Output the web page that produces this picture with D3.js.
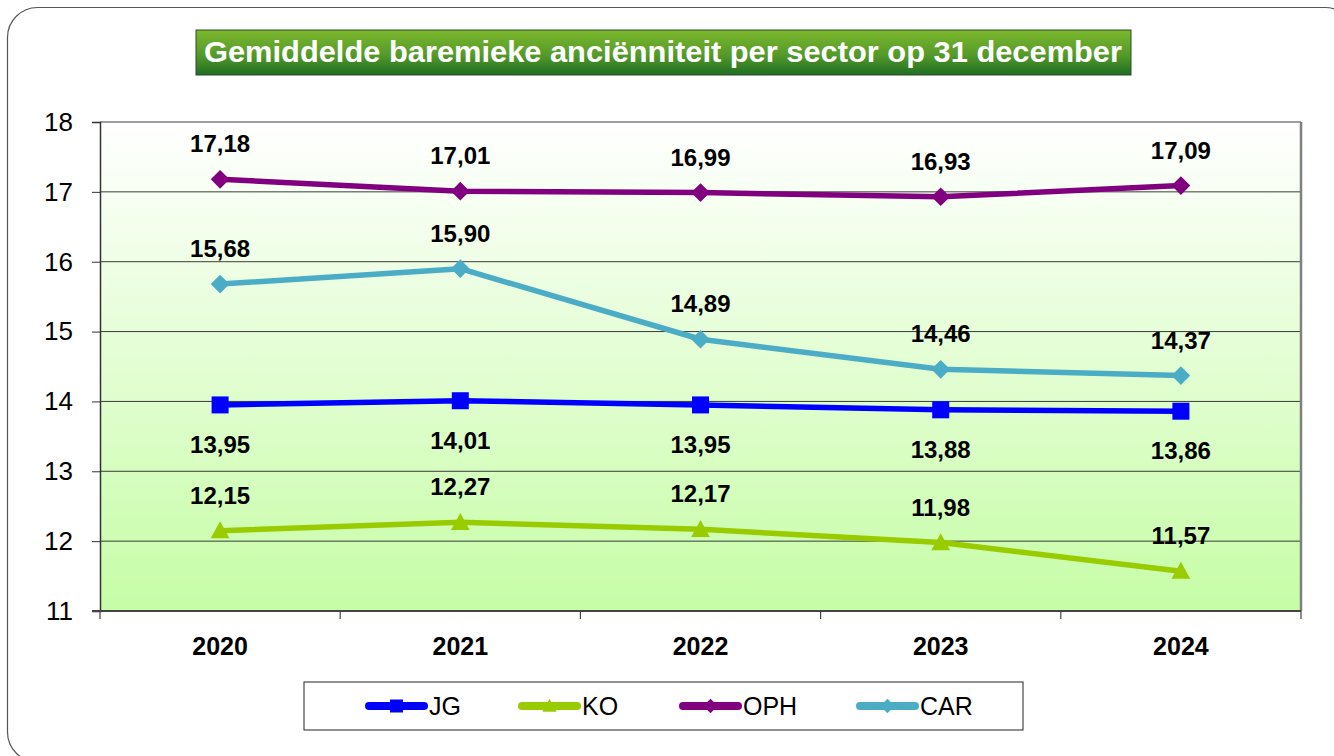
<!DOCTYPE html>
<html>
<head>
<meta charset="utf-8">
<script src="https://cdn.jsdelivr.net/npm/d3@7"></script>
<style>
  body { margin: 0; background: #fff; }
  svg { display: block; font-family: 'Liberation Sans', Arial, sans-serif; }
</style>
</head>
<body>
<script>
// ! Data
const years = ['2020', '2021', '2022', '2023', '2024'];
const jg = [13.95, 14.01, 13.95, 13.88, 13.86];
const ko = [12.15, 12.27, 12.17, 11.98, 11.57];
const oph = [17.18, 17.01, 16.99, 16.93, 17.09];
const car = [15.68, 15.90, 14.89, 14.46, 14.37];
const yTicks = [11, 12, 13, 14, 15, 16, 17, 18];

const seriesList = [
  { name: 'JG', values: jg, color: '#0000ff', marker: 'square', above: false },
  { name: 'KO', values: ko, color: '#99cc00', marker: 'triangle', above: true },
  { name: 'OPH', values: oph, color: '#800080', marker: 'diamond', above: true },
  { name: 'CAR', values: car, color: '#4bacc6', marker: 'diamond', above: true },
];

// * Size and margins
const width = 1334;
const height = 756;
const margin = { top: 122, right: 33, bottom: 145, left: 100 };
const innerWidth = width - margin.left - margin.right;
const innerHeight = height - margin.top - margin.bottom;

const svg = d3.select('body').append('svg')
  .attr('width', width)
  .attr('height', height);

const defs = svg.append('defs');
const titleGrad = defs.append('linearGradient')
  .attr('id', 'titleGrad').attr('x1', 0).attr('y1', 0).attr('x2', 0).attr('y2', 1);
titleGrad.append('stop').attr('offset', '0%').attr('stop-color', '#7cb82c');
titleGrad.append('stop').attr('offset', '55%').attr('stop-color', '#559a2a');
titleGrad.append('stop').attr('offset', '100%').attr('stop-color', '#1f6e22');

const plotGrad = defs.append('linearGradient')
  .attr('id', 'plotGrad').attr('x1', 0).attr('y1', 0).attr('x2', 0).attr('y2', 1);
plotGrad.append('stop').attr('offset', '0%').attr('stop-color', '#ffffff');
plotGrad.append('stop').attr('offset', '100%').attr('stop-color', '#c6fda6');

// * Outer rounded frame (only the part that shows on the page)
const frame = d3.path();
frame.moveTo(37.5, 762);
frame.arcTo(7.5, 762, 7.5, 732, 30);
frame.lineTo(7.5, 37.5);
frame.arcTo(7.5, 7.5, 37.5, 7.5, 30);
frame.lineTo(1325, 7.5);
frame.arcTo(1355, 7.5, 1355, 37.5, 30);
svg.append('path')
  .attr('d', frame.toString())
  .attr('fill', 'none')
  .attr('stroke', '#555')
  .attr('stroke-width', 1.2);

// * Title box
svg.append('rect')
  .attr('x', 196).attr('y', 30)
  .attr('width', 935).attr('height', 45)
  .attr('fill', 'url(#titleGrad)')
  .attr('stroke', '#2d4d2d')
  .attr('stroke-width', 1);
svg.append('text')
  .attr('x', 663).attr('y', 62)
  .attr('text-anchor', 'middle')
  .attr('fill', '#fff')
  .attr('font-family', "'Liberation Sans Narrow', 'Liberation Sans', Arial, sans-serif")
  .attr('font-weight', 'bold')
  .attr('font-size', 30)
  .attr('textLength', 918)
  .attr('lengthAdjust', 'spacingAndGlyphs')
  .text('Gemiddelde baremieke anciënniteit per sector op 31 december');

// * Scales
const x = d3.scaleBand().domain(years).range([0, innerWidth]);
const y = d3.scaleLinear().domain([11, 18]).range([innerHeight, 0]);

const g = svg.append('g')
  .attr('transform', `translate(${margin.left}, ${margin.top})`);

// plot area
g.append('rect')
  .attr('width', innerWidth).attr('height', innerHeight)
  .attr('fill', 'url(#plotGrad)');

// gridlines
g.append('g')
  .selectAll('line')
  .data(yTicks.slice(1, -1))
  .join('line')
  .attr('x1', 0).attr('x2', innerWidth)
  .attr('y1', (d) => y(d)).attr('y2', (d) => y(d))
  .attr('stroke', '#3a3a3a')
  .attr('stroke-width', 1);

// plot border (Excel style, thicker right side)
g.append('line').attr('x1', 0).attr('x2', innerWidth).attr('y1', 0).attr('y2', 0)
  .attr('stroke', '#808080').attr('stroke-width', 1.5);
g.append('line').attr('x1', innerWidth).attr('x2', innerWidth).attr('y1', 0).attr('y2', innerHeight)
  .attr('stroke', '#808080').attr('stroke-width', 2.5);

// y axis
const yAxis = g.append('g')
  .call(d3.axisLeft(y).tickValues(yTicks).tickSize(8).tickPadding(19).tickFormat(d3.format('d')));
yAxis.select('.domain').attr('stroke', '#333').attr('stroke-width', 1.5);
yAxis.selectAll('.tick line').attr('stroke', '#333');
yAxis.selectAll('text')
  .attr('font-size', 26)
  .attr('fill', '#000')
  .attr('font-family', "'Liberation Sans', Arial, sans-serif");

// x axis
const xAxisG = g.append('g').attr('transform', `translate(0, ${innerHeight})`);
xAxisG.append('line')
  .attr('x1', -8).attr('x2', innerWidth)
  .attr('stroke', '#444').attr('stroke-width', 2);
xAxisG.selectAll('.xtick')
  .data(years.concat(['end']))
  .join('line')
  .attr('class', 'xtick')
  .attr('x1', (d, i) => (i < years.length ? x(d) : innerWidth))
  .attr('x2', (d, i) => (i < years.length ? x(d) : innerWidth))
  .attr('y1', 0).attr('y2', 8)
  .attr('stroke', '#444').attr('stroke-width', 1.2);
xAxisG.selectAll('.xlabel')
  .data(years)
  .join('text')
  .attr('class', 'xlabel')
  .attr('x', (d) => x(d) + x.bandwidth() / 2)
  .attr('y', 44)
  .attr('text-anchor', 'middle')
  .attr('font-size', 25)
  .attr('font-weight', 'bold')
  .text((d) => d);

// * Marker drawing
function drawMarker(sel, type, color, size) {
  if (type === 'square') {
    sel.append('rect')
      .attr('x', -size).attr('y', -size)
      .attr('width', size * 2).attr('height', size * 2)
      .attr('fill', color);
  } else if (type === 'triangle') {
    sel.append('path')
      .attr('d', `M0,${-size * 1.1}L${size * 1.1},${size * 0.9}L${-size * 1.1},${size * 0.9}Z`)
      .attr('fill', color);
  } else {
    sel.append('path')
      .attr('d', `M0,${-size * 1.1}L${size * 1.1},0L0,${size * 1.1}L${-size * 1.1},0Z`)
      .attr('fill', color);
  }
}

const line = d3.line()
  .x((d, i) => x(years[i]) + x.bandwidth() / 2)
  .y((d) => y(d));

seriesList.forEach((s) => {
  const sg = g.append('g');
  sg.append('path')
    .datum(s.values)
    .attr('d', line)
    .attr('fill', 'none')
    .attr('stroke', s.color)
    .attr('stroke-width', 5.5)
    .attr('stroke-linejoin', 'round');
  s.values.forEach((v, i) => {
    const px = x(years[i]) + x.bandwidth() / 2;
    const py = y(v);
    const m = sg.append('g').attr('transform', `translate(${px}, ${py})`);
    drawMarker(m, s.marker, s.color, 8.5);
    sg.append('text')
      .attr('x', px)
      .attr('y', s.above ? py - 27 : py + 48)
      .attr('text-anchor', 'middle')
      .attr('font-size', 24)
      .attr('font-weight', 'bold')
      .attr('fill', '#000')
      .text(d3.format('.2f')(v).replace('.', ','));
  });
});

// * Legend
const legend = svg.append('g').attr('transform', 'translate(304, 682)');
legend.append('rect')
  .attr('width', 719).attr('height', 48)
  .attr('fill', '#fff')
  .attr('stroke', '#222')
  .attr('stroke-width', 1);
const legendX = [62, 215, 376, 553];
seriesList.forEach((s, i) => {
  const item = legend.append('g').attr('transform', `translate(${legendX[i]}, 24)`);
  item.append('line')
    .attr('x1', 3).attr('x2', 58)
    .attr('stroke', s.color)
    .attr('stroke-width', 8)
    .attr('stroke-linecap', 'round');
  const m = item.append('g').attr('transform', 'translate(30.5, 0)');
  drawMarker(m, s.marker, s.color, 6.5);
  item.append('text')
    .attr('x', 63)
    .attr('y', 9)
    .attr('font-size', 25)
    .attr('font-family', "'Liberation Sans Narrow', 'Liberation Sans', Arial, sans-serif")
    .attr('fill', '#000')
    .text(s.name);
});
</script>
</body>
</html>
